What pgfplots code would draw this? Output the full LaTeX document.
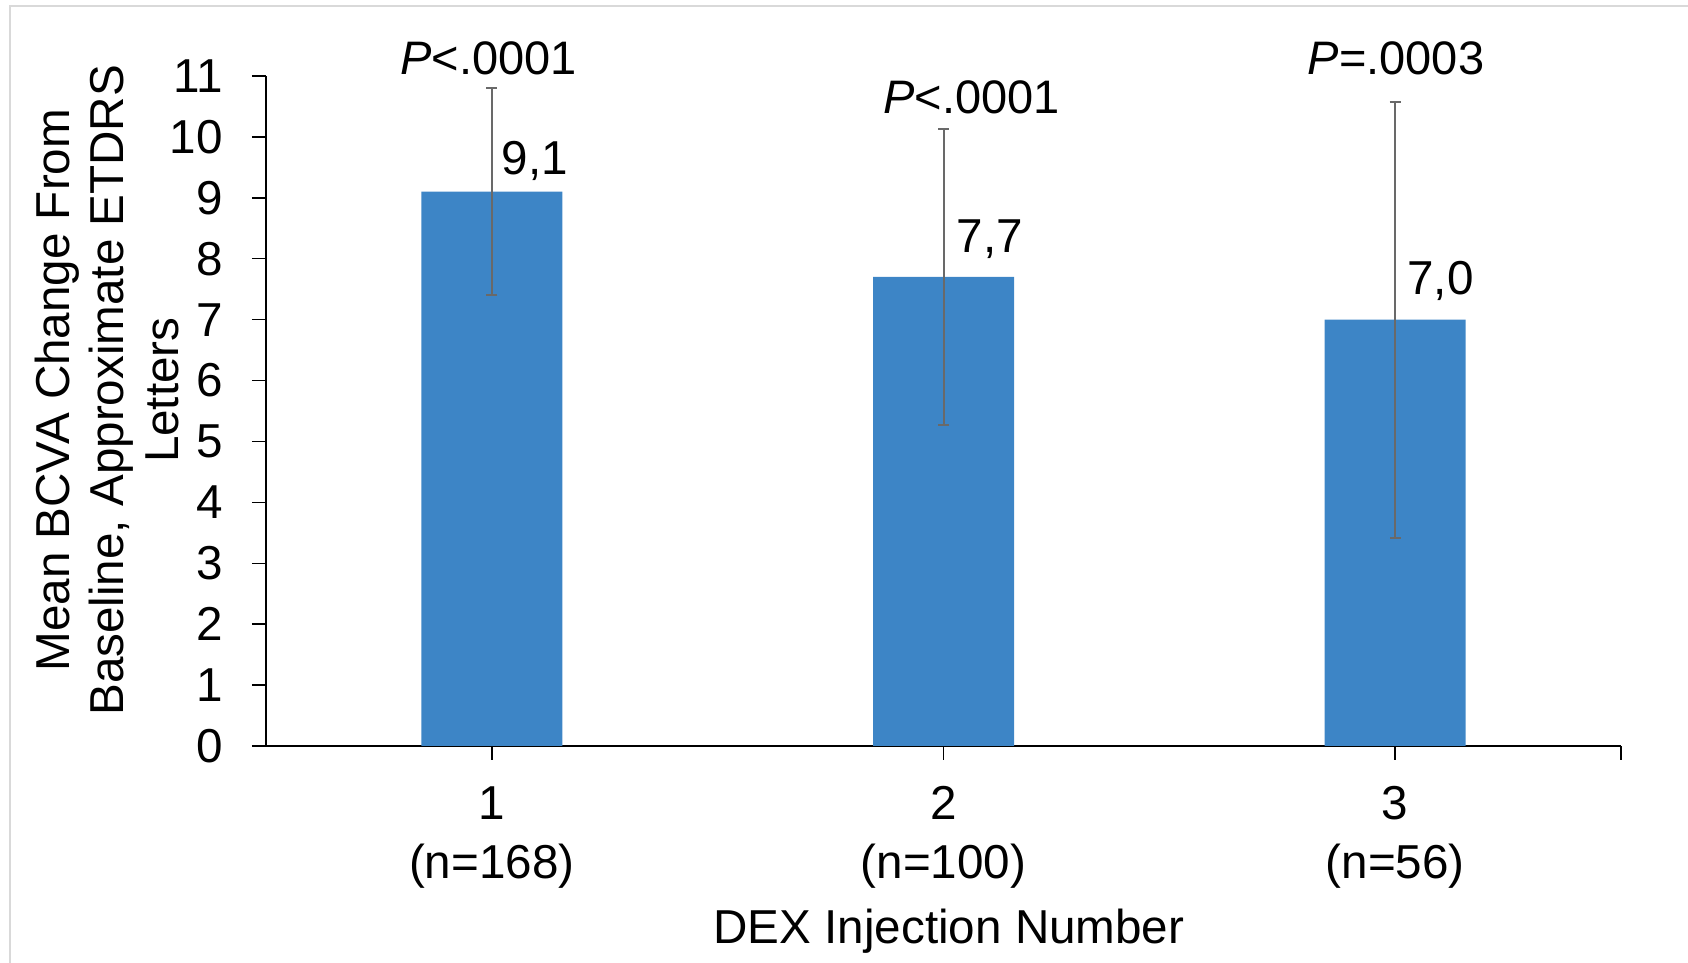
\documentclass[border=0pt]{standalone}
\usepackage{pgfplots}
\pgfplotsset{compat=1.18}
\usepackage{fontspec}
\setmainfont{Liberation Sans}
\definecolor{barblue}{RGB}{61,133,198}
\definecolor{errgray}{RGB}{105,105,105}
\definecolor{framegray}{RGB}{217,217,217}
\newcommand\f{\fontsize{23.8pt}{27.25pt}\selectfont}
\newcommand\fp{\fontsize{23.5pt}{27.25pt}\selectfont}
\begin{document}
\begin{tikzpicture}
\begin{axis}[
  at={(133pt,108.5pt)}, anchor=south west,
  width=677.5pt, height=335pt, scale only axis,
  xmin=0.5, xmax=3.5, ymin=0, ymax=11,
  ytick={0,1,2,3,4,5,6,7,8,9,10,11},
  xtick={1,2,3,3.5},
  xticklabels={{1\\(n=168)},{2\\(n=100)},{3\\(n=56)},{}},
  axis x line*=bottom, axis y line*=left,
  axis line style={-, line width=0.75pt, black},
  tick align=outside, major tick length=7pt,
  tick style={line width=0.75pt, black},
  /pgf/number format/assume math mode=true,
  yticklabel style={font=\f, anchor=east, inner sep=0pt, xshift=-14.5pt},
  xticklabel style={font=\fontsize{23.8pt}{29.5pt}\selectfont, align=center, anchor=north, inner sep=0pt, yshift=-13pt},
  ylabel={Mean BCVA Change From\\Baseline, Approximate ETDRS\\Letters},
  ylabel style={font=\f, align=center, at={(axis description cs:-0.1177,0.531)}, anchor=center, rotate=0},
  xlabel={DEX Injection Number},
  xlabel style={font=\f, at={(axis description cs:0.504,-0.2955)}, anchor=base, inner sep=0pt},
  clip=false,
  ybar, bar width=70.5pt,
]
\addplot[fill=barblue, draw=none,
  error bars/.cd, y dir=both, y explicit,
  error bar style={line width=1pt, color=errgray},
  error mark options={rotate=90, mark size=2.75pt, line width=1pt, color=errgray}]
  coordinates {(1,9.1) +- (0,1.70) (2,7.7) +- (0,2.43) (3,7.0) +- (0,3.58)};
\node[anchor=base west, font=\f, inner sep=0pt] at (axis cs:1.0215,9.376) {9,1};
\node[anchor=base west, font=\f, inner sep=0pt] at (axis cs:2.028,8.095) {7,7};
\node[anchor=base west, font=\f, inner sep=0pt] at (axis cs:3.026,7.406) {7,0};
\node[anchor=base, font=\fp, inner sep=0pt] at (axis cs:0.993,11.03) {\textit{P}<.0001};
\node[anchor=base, font=\fp, inner sep=0pt] at (axis cs:2.062,10.39) {\textit{P}<.0001};
\node[anchor=base, font=\fp, inner sep=0pt] at (axis cs:3.002,11.02) {\textit{P}=.0003};
\end{axis}
\draw[framegray, line width=1pt] (5pt,0pt) -- (5pt,478.5pt) -- (844pt,478.5pt);
\pgfresetboundingbox
\path[use as bounding box] (0,0) rectangle (844pt,481.5pt);
\end{tikzpicture}
\end{document}
